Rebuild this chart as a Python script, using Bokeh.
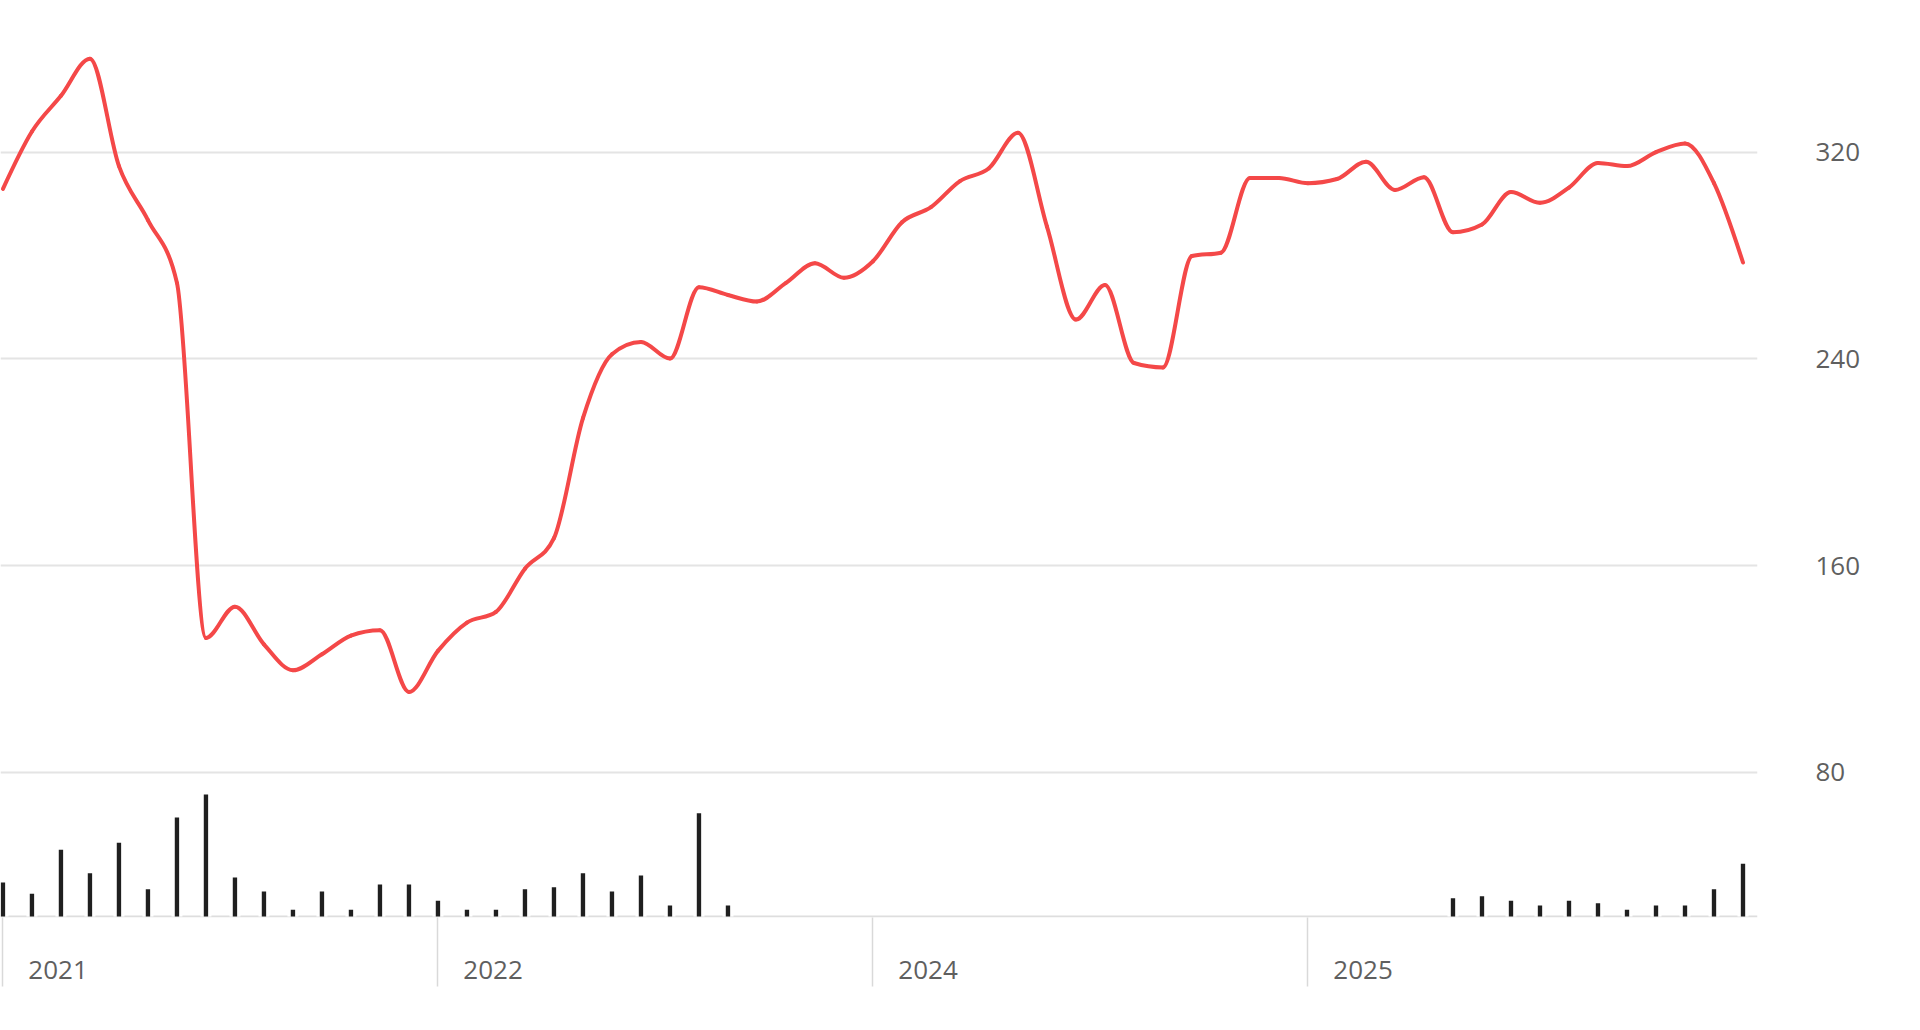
from bokeh.plotting import figure
from bokeh.models import Range1d, LinearAxis, FixedTicker, Span, Grid
from bokeh.embed import file_html
from bokeh.resources import INLINE

# ---- data ----
price = [305.8, 328.0, 341.8, 356.2, 314.6, 293.7, 269.4, 132.0, 144.1, 129.5,
         119.5, 125.7, 132.9, 135.0, 111.1, 127.0, 137.9, 142.1, 158.8, 170.6,
         217.1, 241.8, 246.5, 240.1, 267.7, 264.7, 262.2, 269.4, 277.0, 271.4,
         277.8, 292.9, 298.7, 308.8, 313.8, 327.5, 291.2, 255.2, 268.6, 238.4,
         236.7, 279.8, 281.1, 310.0, 310.0, 308.0, 309.6, 316.3, 305.4, 310.3,
         289.0, 292.0, 304.6, 300.4, 306.3, 315.8, 314.6, 320.0, 323.4, 308.0,
         277.3]

volume = [34, 22.7, 66.7, 43.3, 73.7, 27.3, 99, 122, 39, 25,
          6.7, 25, 6.7, 32, 32, 15.7, 6.7, 6.7, 27.3, 29.3,
          43.3, 25, 41, 11, 103.3, 11, None, None, None, None,
          None, None, None, None, None, None, None, None, None, None,
          None, None, None, None, None, None, None, None, None, None,
          18.3, 20.3, 15.7, 11, 15.7, 13.3, 6.7, 11, 11, 27.3,
          52.7]

year_labels = ["2021", "2022", "2024", "2025"]
year_index = [0, 15, 30, 45]
price_ticks = [80, 160, 240, 320]

# ---- styles ----
LINE_COLOR = "#f44848"
BAR_COLOR = "#1f1f1f"
GRID_COLOR = "#e4e4e4"
TEXT_COLOR = "#5f5f5f"
FONT = "Open Sans"
FONT_SIZE = "26px"
LABEL_SHIFT = 1.9

n = len(price)
xs = list(range(n))

p = figure(frame_width=1757, frame_height=917,
           x_range=Range1d(-0.0845, 60.5), y_range=Range1d(23.8, 378.7),
           x_axis_type=None, y_axis_type=None,
           output_backend="svg", toolbar_location=None, min_border=0,
           min_border_bottom=95)
p.outline_line_color = None
p.background_fill_color = "white"
p.border_fill_color = "white"

p.extra_y_ranges = {"vol": Range1d(-1, 916)}

yticker = FixedTicker(ticks=price_ticks)
p.add_layout(Grid(dimension=1, ticker=yticker, grid_line_color=GRID_COLOR,
                  grid_line_width=2))

yaxis = LinearAxis(ticker=yticker, axis_line_color=None,
                   major_tick_line_color=None, minor_tick_line_color=None,
                   major_tick_out=0, minor_tick_out=0,
                   major_label_standoff=58,
                   major_label_text_font=FONT,
                   major_label_text_font_size=FONT_SIZE,
                   major_label_text_color=TEXT_COLOR)
p.add_layout(yaxis, "right")

label_pos = [i + LABEL_SHIFT for i in year_index]
xticker = FixedTicker(ticks=label_pos, minor_ticks=year_index)
xaxis = LinearAxis(ticker=xticker, axis_line_color=None,
                   major_tick_line_color=None, major_tick_out=0, major_tick_in=0,
                   minor_tick_line_color="#d9d9d9", minor_tick_line_width=1.5,
                   minor_tick_out=69, minor_tick_in=0,
                   major_label_overrides={pos: lab for pos, lab in zip(label_pos, year_labels)},
                   major_label_standoff=-26,
                   major_label_text_font=FONT,
                   major_label_text_font_size=FONT_SIZE,
                   major_label_text_color=TEXT_COLOR)
p.add_layout(xaxis, "below")

# baseline of the volume area
p.add_layout(Span(location=0, dimension="width", y_range_name="vol",
                  line_color="#dedede", line_width=2, level="underlay"))

# volume bars (white mask, then dark bar)
vx = [i for i, v in enumerate(volume) if v is not None]
vt = [v for v in volume if v is not None]
p.vbar(x=vx, top=vt, bottom=0, width=0.38, y_range_name="vol",
       fill_color="white", line_color=None)
p.vbar(x=vx, top=vt, bottom=0, width=0.15, y_range_name="vol",
       fill_color=BAR_COLOR, line_color=None)

# monotone-x smooth price curve drawn as bezier segments from the data
def _sign(v):
    return -1.0 if v < 0 else 1.0

tang = [0.0] * n
for i in range(1, n - 1):
    s0 = price[i] - price[i - 1]
    s1 = price[i + 1] - price[i]
    pp = (s0 + s1) / 2.0
    t = (_sign(s0) + _sign(s1)) * min(abs(s0), abs(s1), 0.5 * abs(pp))
    tang[i] = t
tang[0] = (3 * (price[1] - price[0]) - tang[1]) / 2.0
tang[-1] = (3 * (price[-1] - price[-2]) - tang[-2]) / 2.0

x0 = xs[:-1]
x1 = xs[1:]
y0 = price[:-1]
y1 = price[1:]
cx0 = [x + 1.0 / 3 for x in x0]
cy0 = [y + t / 3.0 for y, t in zip(y0, tang[:-1])]
cx1 = [x - 1.0 / 3 for x in x1]
cy1 = [y - t / 3.0 for y, t in zip(y1, tang[1:])]
p.bezier(x0=x0, y0=y0, x1=x1, y1=y1, cx0=cx0, cy0=cy0, cx1=cx1, cy1=cy1,
         line_color=LINE_COLOR, line_width=4, line_cap="round")

open("out.html", "w").write(file_html(p, INLINE))
